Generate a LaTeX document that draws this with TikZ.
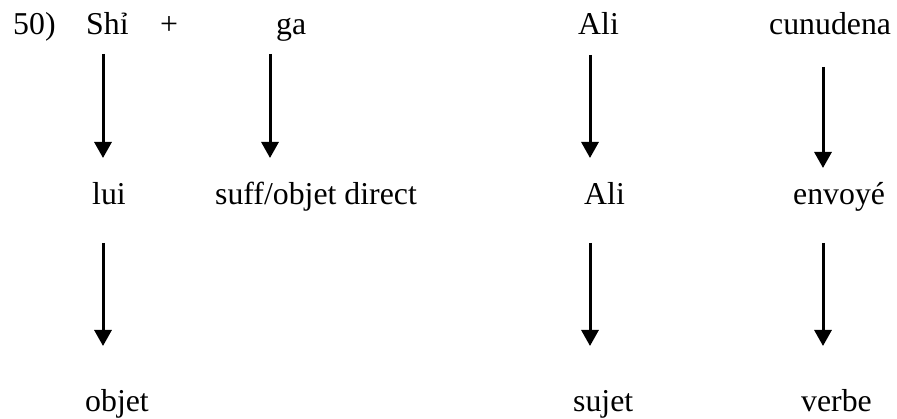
\documentclass[tikz,border=0pt]{standalone}
\usepackage{fontspec}
\setmainfont{Liberation Serif}
\usetikzlibrary{arrows.meta}
\begin{document}
\begin{tikzpicture}[x=1pt,y=-1pt,
  word/.style={anchor=base west,inner sep=0pt,font=\fontsize{31.8}{38}\selectfont},
  arr/.style={line width=3pt,-{Triangle[length=16pt,width=17pt]}}]
\useasboundingbox (0,0) rectangle (897,419);
% row 1
\node[word] (n50) at (13,35) {50)};
\node[word] (shi) at (86,35) {Shỉ};
\node[word] (plus) at (160,35) {+};
\node[word] (ga) at (276,35) {ga};
\node[word] (ali1) at (578,35) {Ali};
\node[word] (cun) at (769,35) {cunudena};
% row 2
\node[word] (lui) at (92,205) {lui};
\node[word] (suff) at (215,205) {suff/objet direct};
\node[word] (ali2) at (584,205) {Ali};
\node[word] (env) at (793,205) {envoyé};
% row 3
\node[word] (objet) at (85,412) {objet};
\node[word] (sujet) at (573,412) {sujet};
\node[word] (verbe) at (801,412) {verbe};
% arrow end points
\coordinate (a1s) at (103,54);  \coordinate (a1e) at (103,158);
\coordinate (a2s) at (270,54);  \coordinate (a2e) at (270,158);
\coordinate (a3s) at (590,55);  \coordinate (a3e) at (590,158);
\coordinate (a4s) at (823,67);  \coordinate (a4e) at (823,168);
\coordinate (b1s) at (103,243); \coordinate (b1e) at (103,346);
\coordinate (b3s) at (590,243); \coordinate (b3e) at (590,346);
\coordinate (b4s) at (823,243); \coordinate (b4e) at (823,346);
\draw[arr] (a1s) -- (a1e);
\draw[arr] (a2s) -- (a2e);
\draw[arr] (a3s) -- (a3e);
\draw[arr] (a4s) -- (a4e);
\draw[arr] (b1s) -- (b1e);
\draw[arr] (b3s) -- (b3e);
\draw[arr] (b4s) -- (b4e);
\end{tikzpicture}
\end{document}
